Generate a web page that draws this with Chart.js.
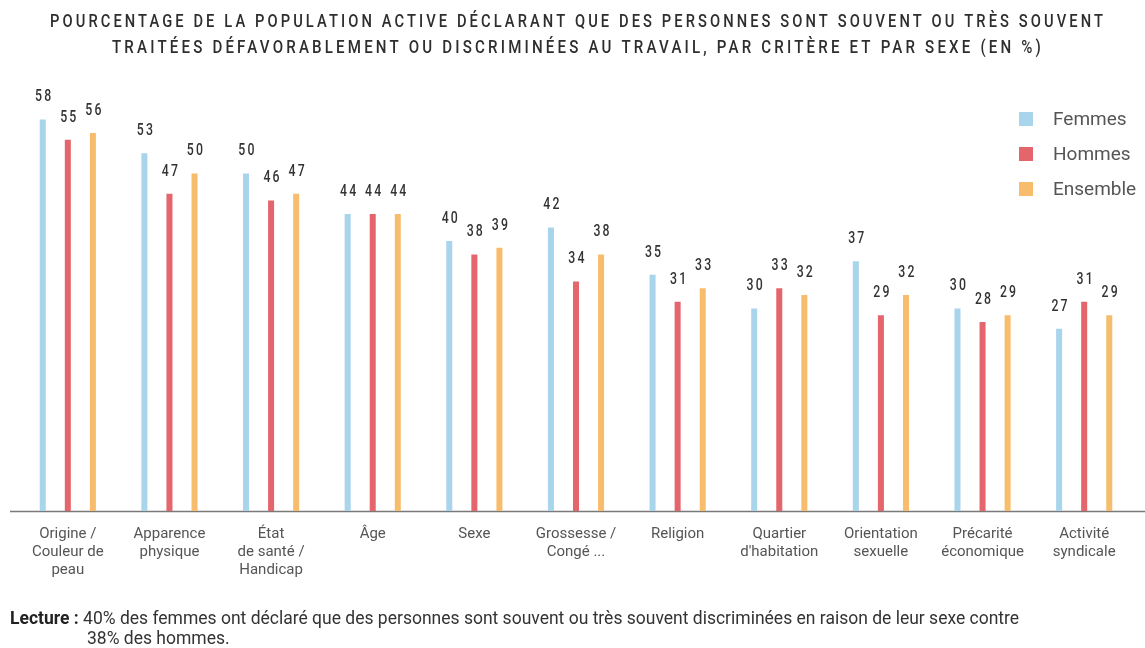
<!DOCTYPE html>
<html>
<head>
<meta charset="utf-8">
<script src="https://cdn.jsdelivr.net/npm/chart.js@4.4.1/dist/chart.umd.min.js"></script>
<style>
  html, body { margin: 0; padding: 0; background: #fff; }
  #wrap { position: relative; width: 1145px; height: 648px; }
</style>
</head>
<body>
<div id="wrap"><canvas id="chart" width="1145" height="648"></canvas></div>
<script>
// data
const categories = [
  ['Origine /', 'Couleur de', 'peau'],
  ['Apparence', 'physique'],
  ['État', 'de santé /', 'Handicap'],
  ['Âge'],
  ['Sexe'],
  ['Grossesse /', 'Congé ...'],
  ['Religion'],
  ['Quartier', "d'habitation"],
  ['Orientation', 'sexuelle'],
  ['Précarité', 'économique'],
  ['Activité', 'syndicale'],
];
const femmes   = [58, 53, 50, 44, 40, 42, 35, 30, 37, 30, 27];
const hommes   = [55, 47, 46, 44, 38, 34, 31, 33, 29, 28, 31];
const ensemble = [56, 50, 47, 44, 39, 38, 33, 32, 32, 29, 29];

const seriesNames = ['Femmes', 'Hommes', 'Ensemble'];
const seriesColors = ['#a8d4ec', '#e5656d', '#f8bd6c'];

const titleLines = [
  'POURCENTAGE DE LA POPULATION ACTIVE DÉCLARANT QUE DES PERSONNES SONT SOUVENT OU TRÈS SOUVENT',
  'TRAITÉES DÉFAVORABLEMENT OU DISCRIMINÉES AU TRAVAIL, PAR CRITÈRE ET PAR SEXE (EN %)',
];
const noteBold = 'Lecture :';
const noteLines = [
  ' 40% des femmes ont déclaré que des personnes sont souvent ou très souvent discriminées en raison de leur sexe contre',
  '38% des hommes.',
];

// draw text squeezed to a given width (condensed look)
function squeezedText(ctx, text, cx, y, width) {
  const w = ctx.measureText(text).width;
  ctx.save();
  ctx.translate(cx, y);
  ctx.scale(width / w, 1);
  ctx.textAlign = 'center';
  ctx.fillText(text, 0, 0);
  ctx.restore();
}

const decorPlugin = {
  id: 'decor',
  beforeDatasetsDraw(chart) {
    const { ctx, chartArea } = chart;
    ctx.save();
    ctx.strokeStyle = '#7a7a7a';
    ctx.lineWidth = 1.5;
    ctx.beginPath();
    ctx.moveTo(10, chartArea.bottom + 0.5);
    ctx.lineTo(1145, chartArea.bottom + 0.5);
    ctx.stroke();
    ctx.restore();
  },
  afterDraw(chart) {
    const { ctx } = chart;
    ctx.save();

    // value labels
    ctx.fillStyle = '#333';
    ctx.font = '500 17px Roboto';
    ctx.letterSpacing = '3px';
    ctx.textBaseline = 'bottom';
    chart.data.datasets.forEach((ds, i) => {
      chart.getDatasetMeta(i).data.forEach((bar, j) => {
        const txt = String(ds.data[j]);
        const w = ctx.measureText(txt).width;
        squeezedText(ctx, txt, bar.x + 1.5, bar.y - 14, (w - 3) * 0.82);
      });
    });

    // title
    ctx.letterSpacing = '4px';
    ctx.font = '500 19px Roboto';
    ctx.fillStyle = '#2e2e2e';
    ctx.textBaseline = 'middle';
    squeezedText(ctx, titleLines[0], 578, 22, 1056);
    squeezedText(ctx, titleLines[1], 578, 48, 932);
    ctx.letterSpacing = '0px';

    // legend
    ctx.font = '19px Roboto';
    ctx.textAlign = 'left';
    ctx.textBaseline = 'middle';
    seriesNames.forEach((name, i) => {
      const y = 119 + i * 35;
      ctx.fillStyle = seriesColors[i];
      ctx.fillRect(1019, y - 7, 14, 14);
      ctx.fillStyle = '#555';
      ctx.fillText(name, 1053, y + 1);
    });

    // note
    ctx.textBaseline = 'alphabetic';
    ctx.fillStyle = '#222';
    ctx.font = 'bold 17.5px Roboto';
    ctx.fillText(noteBold, 10, 624);
    const bw = ctx.measureText(noteBold).width;
    ctx.font = '17.5px Roboto';
    ctx.fillStyle = '#333';
    ctx.fillText(noteLines[0], 10 + bw, 624);
    ctx.fillText(noteLines[1], 87, 644);

    ctx.restore();
  }
};

new Chart(document.getElementById('chart').getContext('2d'), {
  type: 'bar',
  data: {
    labels: categories,
    datasets: [femmes, hommes, ensemble].map((vals, i) => ({
      label: seriesNames[i],
      data: vals,
      backgroundColor: seriesColors[i],
      borderWidth: 0,
      categoryPercentage: 0.74,
      barPercentage: 0.24,
    })),
  },
  options: {
    responsive: false,
    animation: false,
    layout: { padding: { left: 17, right: 10, top: 106, bottom: 63 } },
    plugins: {
      legend: { display: false },
      tooltip: { enabled: false },
    },
    scales: {
      x: {
        grid: { display: false },
        border: { display: false },
        ticks: {
          color: '#555',
          font: { family: 'Roboto', size: 15, lineHeight: '18px' },
          padding: 6,
          maxRotation: 0,
          autoSkip: false,
        },
      },
      y: { display: false, min: 0, max: 60 },
    },
  },
  plugins: [decorPlugin],
});
</script>
</body>
</html>
